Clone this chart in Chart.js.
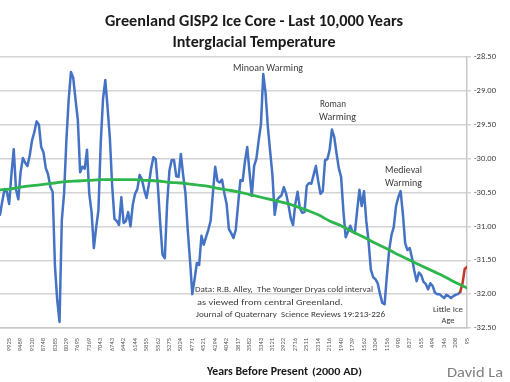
<!DOCTYPE html>
<html><head><meta charset="utf-8">
<script src="https://cdn.jsdelivr.net/npm/chart.js@4"></script>
<style>html,body{margin:0;padding:0;background:#fff;}canvas{display:block;}</style>
</head><body>
<canvas id="c" width="510" height="382"></canvas>
<script>
// ---- tick labels (years before present) ----
const yearLabels = ['9925','9489','9120','8748','8385','8029','7695','7369','7043','6743','6442','6144','5855','5562','5275','5024','4771','4521','4294','4042','3817','3582','3343','3121','2922','2716','2511','2314','2116','1940','1739','1562','1304','1156','990','827','655','494','346','208','95'];

// ---- GISP2 temperature (deg C), evenly spaced samples, 5 per labelled step ----
const tempBlue = [
-30.83,-30.63,-30.45,-30.49,-30.67,-30.23,-29.86,-30.46,-30.60,-30.20,
-29.99,-30.06,-30.11,-29.95,-29.73,-29.61,-29.45,-29.50,-29.83,-29.91,
-30.14,-30.23,-30.42,-30.49,-31.58,-32.09,-32.41,-30.91,-30.51,-29.73,
-29.13,-28.72,-28.81,-29.13,-29.43,-30.20,-30.12,-30.15,-29.87,-30.52,
-30.79,-31.32,-31.02,-30.76,-29.77,-29.12,-28.84,-29.25,-29.70,-30.40,
-30.89,-30.92,-30.98,-30.57,-30.95,-30.92,-30.79,-31.00,-30.68,-30.52,
-30.45,-30.24,-30.31,-30.46,-30.58,-30.39,-30.15,-29.98,-30.01,-30.42,
-30.96,-31.42,-31.47,-30.67,-30.18,-30.02,-30.02,-30.26,-30.27,-29.93,
-30.24,-30.51,-31.05,-31.50,-32.00,-31.78,-31.54,-31.57,-31.14,-31.27,
-31.16,-31.05,-30.92,-30.51,-30.12,-30.33,-30.35,-30.31,-30.51,-30.67,
-31.04,-31.10,-31.17,-31.05,-30.68,-30.32,-30.33,-30.04,-29.83,-30.20,
-30.55,-30.11,-30.00,-29.73,-29.49,-28.75,-29.03,-29.53,-29.89,-30.24,
-30.83,-30.61,-30.57,-30.54,-30.42,-30.52,-30.68,-30.88,-30.98,-30.67,
-30.49,-30.73,-30.80,-30.79,-30.40,-30.36,-30.37,-30.24,-30.11,-30.33,
-30.52,-30.48,-30.02,-30.01,-29.87,-29.57,-29.68,-29.92,-30.14,-30.27,
-30.77,-31.16,-31.08,-30.99,-31.08,-31.10,-30.77,-30.46,-30.70,-30.48,
-30.92,-31.22,-31.64,-31.75,-31.78,-31.84,-32.00,-32.13,-32.15,-31.73,
-31.35,-31.13,-31.01,-30.70,-30.57,-30.48,-30.82,-31.25,-31.35,-31.32,
-31.47,-31.66,-31.81,-31.68,-31.72,-31.82,-31.85,-31.93,-31.84,-31.88,
-31.98,-32.00,-32.00,-32.03,-32.06,-32.01,-32.03,-32.06,-32.03,-32.01,
-32.00,-31.97];
// ---- recent segment (red) ----
const tempRed = [-31.97,-31.85,-31.63,-31.60];
// ---- trend line, read at the left edge and at each labelled year ----
const trendStart = -30.46;
const trendAtLabels = [
-30.45,-30.42,-30.40,-30.38,-30.36,-30.34,-30.33,-30.32,-30.31,-30.31,
-30.31,-30.31,-30.32,-30.33,-30.35,-30.36,-30.38,-30.40,-30.43,-30.46,
-30.49,-30.53,-30.57,-30.61,-30.65,-30.70,-30.76,-30.83,-30.92,-30.99,
-31.08,-31.16,-31.25,-31.33,-31.42,-31.50,-31.58,-31.66,-31.74,-31.83,-31.91];

// sample index layout: LEAD samples before the first labelled year, PER samples per labelled step
const PER = 5, LEAD = 4;
const N = LEAD + PER*(yearLabels.length-1) + 1;
const labelIndex = j => LEAD + PER*j;
const blueData = tempBlue.map((v,k)=>({x:k, y:v}));
const redStart = N - tempRed.length;
const redData = tempRed.map((v,i)=>({x:redStart+i, y:v}));
const trendData = [{x:0, y:trendStart}].concat(trendAtLabels.map((v,j)=>({x:labelIndex(j), y:v})));

const FAM = 'Carlito, Lato, "Open Sans", sans-serif';
Chart.defaults.font.family = FAM;

function txt(ctx, s, x, y, size, weight, color, w, align){
  ctx.save();
  ctx.font = weight+' '+size+'px '+FAM;
  ctx.fillStyle = color;
  ctx.textBaseline = 'alphabetic';
  ctx.textAlign = 'left';
  const m = ctx.measureText(s).width;
  const sx = w ? w/m : 1;
  const ww = m*sx;
  const x0 = align==='center' ? x-ww/2 : (align==='right' ? x-ww : x);
  ctx.translate(x0,y); ctx.scale(sx,1);
  ctx.fillText(s,0,0);
  ctx.restore();
}

const textPlugin = {
  id:'texts',
  afterDraw(chart){
    const c = chart.ctx;
    txt(c,'Greenland GISP2 Ice Core - Last 10,000 Years',254,26,16,'bold','#1a1a1a',298,'center');
    txt(c,'Interglacial Temperature',254,47,16,'bold','#1a1a1a',163,'center');
    const ac = '#3a3a3a';
    txt(c,'Minoan Warming',268,71,9.5,'normal',ac,70,'center');
    txt(c,'Roman',320,107,9.5,'normal',ac,26,'left');
    txt(c,'Warming',319,120,9.5,'normal',ac,37,'left');
    txt(c,'Medieval',385,173,9.5,'normal',ac,37,'left');
    txt(c,'Warming',385,186,9.5,'normal',ac,37,'left');
    txt(c,'Little Ice',448,312,9,'normal',ac,30,'center');
    txt(c,'Age',448,323,9,'normal',ac,13,'center');
    txt(c,'Data: R.B. Alley,  The Younger Dryas cold interval',195,292,9,'normal',ac,178,'left');
    txt(c,'as viewed from central Greenland.',197,305,9,'normal',ac,146,'left');
    txt(c,'Journal of Quaternary  Science Reviews 19:213-226',196,317,9,'normal',ac,189,'left');
    txt(c,'Years Before Present',207,375,12,'bold','#1a1a1a',101,'left');
    txt(c,'(2000 AD)',312,375,9.5,'bold','#1a1a1a',50,'left');
    txt(c,'David La',447,377,15,'normal','#7f7f7f',56,'left');
  }
};

new Chart(document.getElementById('c'), {
  type:'line',
  data:{datasets:[
    {label:'Trend', data:trendData, borderColor:'#2db64c', borderWidth:2.8, pointRadius:0, tension:0.4, order:0},
    {label:'Recent', data:redData, borderColor:'#c0392b', borderWidth:2.5, pointRadius:0, order:1},
    {label:'GISP2', data:blueData, borderColor:'#4472c4', borderWidth:2.5, pointRadius:0, order:2}
  ]},
  options:{
    responsive:false, animation:false, devicePixelRatio:1,
    layout:{padding:{top:57,left:0,right:0,bottom:0}},
    plugins:{legend:{display:false}, title:{display:false}, tooltip:{enabled:false}},
    elements:{line:{borderJoinStyle:'round', borderCapStyle:'round'}},
    scales:{
      x:{type:'linear', min:0, max:N-1,
         grid:{display:false, drawTicks:false},
         border:{display:true, color:'#c8c8c8', width:1.5},
         afterBuildTicks(s){ s.ticks = yearLabels.map((_,j)=>({value:labelIndex(j)})); },
         ticks:{autoSkip:false, maxRotation:90, minRotation:90, font:{size:6.5}, color:'#595959', padding:10,
                callback:(v)=>{ const j=(v-LEAD)/PER; return yearLabels[j] !== undefined ? yearLabels[j] : ''; }},
         afterFit(s){ s.height = 54; s.paddingLeft = 0; s.paddingRight = 0; }},
      y:{position:'right', min:-32.5, max:-28.5,
         ticks:{stepSize:0.5, callback:v=>Number(v).toFixed(2), font:{size:8.5}, color:'#404040', padding:3},
         grid:{color:'#d4d4d4', lineWidth:1.5, tickLength:4, drawTicks:true},
         border:{display:true, color:'#c8c8c8', width:1.5},
         afterFit(s){ s.width = 43; }}
    }
  },
  plugins:[textPlugin]
});
</script>
</body></html>
